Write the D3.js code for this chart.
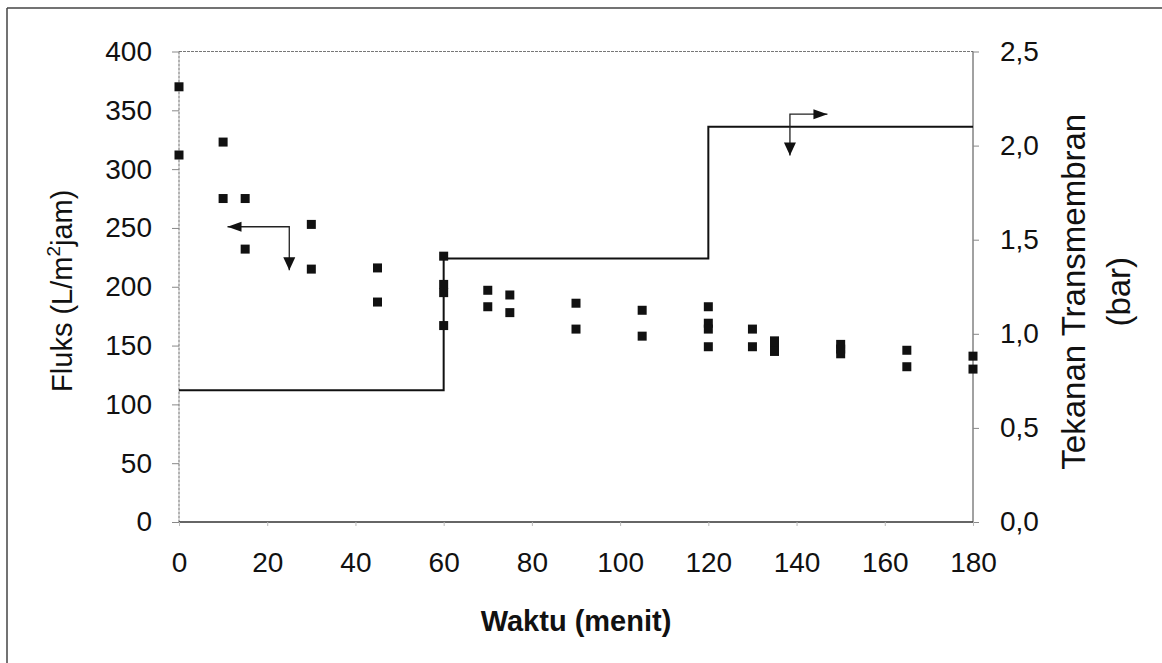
<!DOCTYPE html>
<html>
<head>
<meta charset="utf-8">
<script src="https://cdn.jsdelivr.net/npm/d3@7"></script>
<style>
  body { margin: 0; background: #fff; }
  text { font-family: "Liberation Sans", Arial, sans-serif; fill: #111; }
</style>
</head>
<body>
<svg id="chart"></svg>
<script>
// flux measurements (L/m2 jam) against time (menit)
const fluxTime  = [0, 0, 10, 10, 15, 15, 30, 30, 45, 45, 60, 60, 60, 60, 70, 70, 75, 75, 90, 90,
                   105, 105, 120, 120, 120, 120, 130, 130, 135, 135, 135, 150, 150, 150, 165, 165, 180, 180];
const fluxValue = [370, 312, 323, 275, 275, 232, 253, 215, 216, 187, 226, 202, 195, 167, 197, 183, 193, 178, 186, 164,
                   180, 158, 183, 169, 164, 149, 164, 149, 154, 149, 145, 151, 147, 143, 146, 132, 141, 130];

// transmembrane pressure (bar), step after each time
const pressureTime  = [0, 60, 120, 180];
const pressureValue = [0.7, 1.4, 2.1, 2.1];

// axis ticks
const xTicks = [0, 20, 40, 60, 80, 100, 120, 140, 160, 180];
const yTicks = [0, 50, 100, 150, 200, 250, 300, 350, 400];
const y2Ticks = [0, 0.5, 1.0, 1.5, 2.0, 2.5];

const width = 1162, height = 663;
const margin = { top: 51.5, right: 189, bottom: 141, left: 179 };

const svg = d3.select("#chart").attr("width", width).attr("height", height);

const x = d3.scaleLinear().domain([0, 180]).range([margin.left, width - margin.right]);
const y = d3.scaleLinear().domain([0, 400]).range([height - margin.bottom, margin.top]);
const y2 = d3.scaleLinear().domain([0, 2.5]).range([height - margin.bottom, margin.top]);

const x0 = x.range()[0], x1 = x.range()[1];
const yb = y.range()[0], yt = y.range()[1];

// outer frame (left and top edges of the scanned box)
svg.append("line").attr("x1", 7).attr("y1", 8).attr("x2", width).attr("y2", 8)
    .attr("stroke", "#444").attr("stroke-width", 1.5);
svg.append("line").attr("x1", 7).attr("y1", 8).attr("x2", 7).attr("y2", height)
    .attr("stroke", "#444").attr("stroke-width", 1.5);

// plot border: dotted top and left, solid bottom and right
svg.append("line").attr("x1", x0).attr("y1", yt).attr("x2", x1).attr("y2", yt)
    .attr("stroke", "#777").attr("stroke-dasharray", "3,1");
svg.append("line").attr("x1", x0).attr("y1", yt).attr("x2", x0).attr("y2", yb)
    .attr("stroke", "#666").attr("stroke-dasharray", "3,1");
svg.append("line").attr("x1", x0).attr("y1", yb).attr("x2", x1).attr("y2", yb)
    .attr("stroke", "#333").attr("stroke-width", 1.5);
svg.append("line").attr("x1", x1).attr("y1", yt).attr("x2", x1).attr("y2", yb)
    .attr("stroke", "#444");

// left axis
const yAxis = svg.append("g")
    .attr("transform", `translate(${x0},0)`)
    .call(d3.axisLeft(y).tickValues(yTicks).tickSize(7).tickPadding(20));
yAxis.select(".domain").remove();
yAxis.selectAll(".tick line").attr("stroke", "#888");
yAxis.selectAll(".tick text").attr("font-size", 28).attr("font-family", "Liberation Sans, Arial").attr("fill", "#111");

// right axis
const y2Axis = svg.append("g")
    .attr("transform", `translate(${x1},0)`)
    .call(d3.axisRight(y2).tickValues(y2Ticks).tickSize(6).tickPadding(21)
        .tickFormat(d => d3.format(".1f")(d).replace(".", ",")));
y2Axis.select(".domain").remove();
y2Axis.selectAll(".tick line").attr("stroke", "#888");
y2Axis.selectAll(".tick text").attr("font-size", 28).attr("font-family", "Liberation Sans, Arial").attr("fill", "#111");

// bottom axis
const xAxis = svg.append("g")
    .attr("transform", `translate(0,${yb})`)
    .call(d3.axisBottom(x).tickValues(xTicks).tickSize(4).tickPadding(26));
xAxis.select(".domain").remove();
xAxis.selectAll(".tick line").attr("stroke", "#bbb");
xAxis.selectAll(".tick text").attr("font-size", 28).attr("font-family", "Liberation Sans, Arial").attr("fill", "#111");

// axis titles
svg.append("text")
    .attr("x", (x0 + x1) / 2).attr("y", 631)
    .attr("text-anchor", "middle")
    .attr("font-size", 29).attr("font-weight", "bold")
    .text("Waktu (menit)");

const leftTitle = svg.append("text")
    .attr("transform", `translate(72,${(yt + yb) / 2 + 4}) rotate(-90)`)
    .attr("text-anchor", "middle")
    .attr("font-size", 29);
leftTitle.append("tspan").text("Fluks (L/m");
leftTitle.append("tspan").attr("dy", -12).attr("font-size", 19).text("2");
leftTitle.append("tspan").attr("dy", 12).text("jam)");

const rightTitle = svg.append("text")
    .attr("transform", `translate(1085,${(yt + yb) / 2 + 5}) rotate(-90)`)
    .attr("text-anchor", "middle")
    .attr("font-size", 33);
rightTitle.append("tspan").attr("x", 0).attr("dy", 0).text("Tekanan Transmembran");
rightTitle.append("tspan").attr("x", 0).attr("dy", 45).text("(bar)");

// pressure step line
const pressureLine = d3.line()
    .x((d, i) => x(pressureTime[i]))
    .y((d, i) => y2(pressureValue[i]))
    .curve(d3.curveStepAfter);
svg.append("path")
    .datum(pressureTime)
    .attr("d", pressureLine)
    .attr("fill", "none")
    .attr("stroke", "#111")
    .attr("stroke-width", 2);

// flux points
const sq = 9;
svg.append("g").selectAll("rect")
    .data(fluxTime)
    .join("rect")
    .attr("x", (d, i) => x(d) - sq / 2)
    .attr("y", (d, i) => y(fluxValue[i]) - sq / 2)
    .attr("width", sq).attr("height", sq)
    .attr("fill", "#111");

// arrows pointing each series to its axis
function elbowArrow(cx, cy, hx, vy) {
    const g = svg.append("g");
    g.append("path")
        .attr("d", `M${hx},${cy} H${cx} V${vy}`)
        .attr("fill", "none").attr("stroke", "#222").attr("stroke-width", 1.3);
    const dir = hx < cx ? 1 : -1;
    g.append("path")
        .attr("d", `M${hx},${cy} l${dir * 14},-5 l0,10 Z`)
        .attr("fill", "#111");
    g.append("path")
        .attr("d", `M${cx},${vy} l-6,-13 l12,0 Z`)
        .attr("fill", "#111");
}
elbowArrow(x(25), y(251), x(11), y(214));
elbowArrow(x(138.5), y2(2.167), x(147), y2(1.947));
</script>
</body>
</html>
